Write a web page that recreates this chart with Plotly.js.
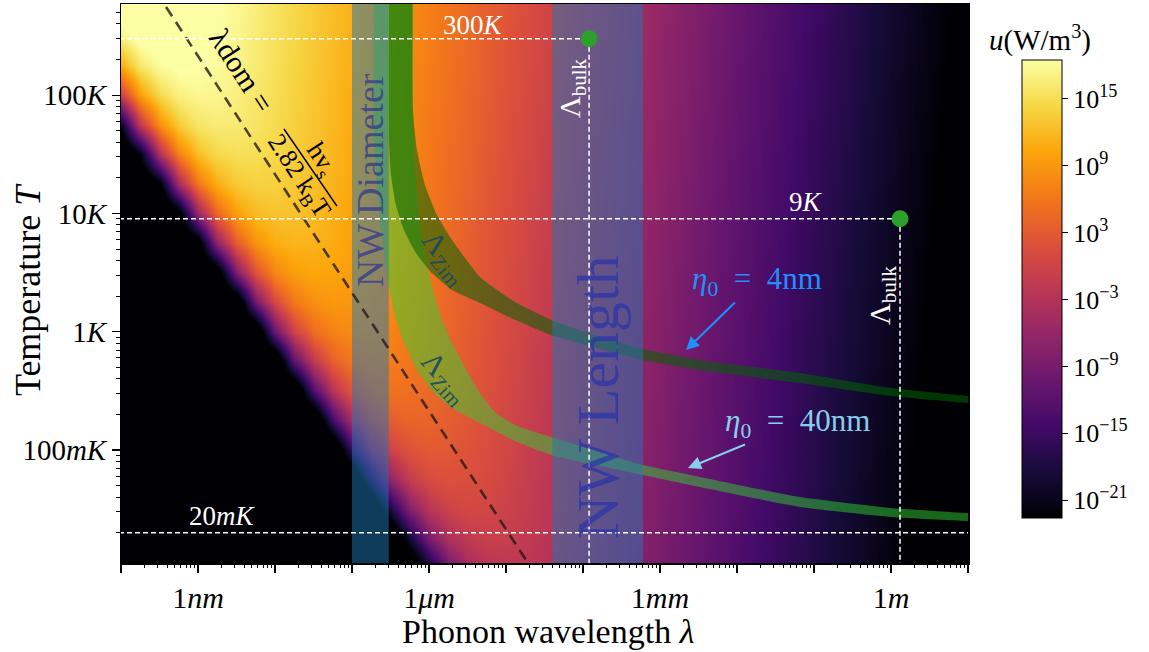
<!DOCTYPE html>
<html><head><meta charset="utf-8">
<script src="https://cdn.plot.ly/plotly-3.0.1.min.js"></script>
<style>html,body{margin:0;padding:0;background:#fff;}#chart{width:1149px;height:652px;}</style>
</head><body><div id="chart"></div>
<script>
// ---- heatmap grid: log10 wavelength (m) and log10 temperature (K) ----
const logLambdaGrid = [-10,-9.75,-9.5,-9.25,-9,-8.75,-8.5,-8.25,-8,-7.75,-7.5,-7.25,-7,-6.75,-6.5,-6.25,-6,-5.75,-5.5,-5.25,-5,-4.75,-4.5,-4.25,-4,-3.75,-3.5,-3.25,-3,-2.75,-2.5,-2.25,-2,-1.75,-1.5,-1.25,-1,-0.75,-0.5,-0.25,0,0.25,0.5,0.75,1];
const logTGrid = [-2,-1.75,-1.5,-1.25,-1,-0.75,-0.5,-0.25,0,0.25,0.5,0.75,1,1.25,1.5,1.75,2,2.25,2.5,2.75];
// log10 u (W/m^3), one row per temperature; -30 = below the colour scale (black)
const uRow00 = [-30,-30,-30,-30,-30,-30,-30,-30,-30,-30,-30,-30,-30,-30,-30,-30,-20.1,-10.0,-4.9,-2.6,-1.9,-2.1,-2.7,-3.6,-4.5,-5.6,-6.6,-7.7,-8.8,-9.8,-10.9,-12.0,-13.1,-14.2,-15.3,-16.4,-17.4,-18.5,-19.6,-20.7,-21.8,-22.9,-24.0,-25.1,-26.1];
const uRow01 = [-30,-30,-30,-30,-30,-30,-30,-30,-30,-30,-30,-30,-30,-30,-30,-18.9,-8.8,-3.7,-1.4,-0.7,-0.8,-1.5,-2.3,-3.3,-4.3,-5.4,-6.5,-7.5,-8.6,-9.7,-10.8,-11.9,-13.0,-14.1,-15.1,-16.2,-17.3,-18.4,-19.5,-20.6,-21.7,-22.8,-23.8,-24.9,-26.0];
const uRow02 = [-30,-30,-30,-30,-30,-30,-30,-30,-30,-30,-30,-30,-30,-30,-17.7,-7.5,-2.4,-0.1,0.6,0.4,-0.3,-1.1,-2.1,-3.1,-4.2,-5.2,-6.3,-7.4,-8.5,-9.6,-10.7,-11.7,-12.8,-13.9,-15.0,-16.1,-17.2,-18.3,-19.4,-20.4,-21.5,-22.6,-23.7,-24.8,-25.9];
const uRow03 = [-30,-30,-30,-30,-30,-30,-30,-30,-30,-30,-30,-30,-30,-16.4,-6.3,-1.2,1.1,1.8,1.6,1.0,0.1,-0.9,-1.9,-2.9,-4.0,-5.1,-6.2,-7.3,-8.3,-9.4,-10.5,-11.6,-12.7,-13.8,-14.9,-16.0,-17.0,-18.1,-19.2,-20.3,-21.4,-22.5,-23.6,-24.7,-25.7];
const uRow04 = [-30,-30,-30,-30,-30,-30,-30,-30,-30,-30,-30,-30,-15.2,-5.1,0.0,2.3,3.0,2.8,2.2,1.3,0.4,-0.7,-1.7,-2.8,-3.9,-4.9,-6.0,-7.1,-8.2,-9.3,-10.4,-11.5,-12.6,-13.6,-14.7,-15.8,-16.9,-18.0,-19.1,-20.2,-21.3,-22.3,-23.4,-24.5,-25.6];
const uRow05 = [-30,-30,-30,-30,-30,-30,-30,-30,-30,-30,-30,-14.0,-3.9,1.2,3.5,4.2,4.1,3.4,2.6,1.6,0.6,-0.5,-1.6,-2.6,-3.7,-4.8,-5.9,-7.0,-8.1,-9.2,-10.2,-11.3,-12.4,-13.5,-14.6,-15.7,-16.8,-17.9,-18.9,-20.0,-21.1,-22.2,-23.3,-24.4,-25.5];
const uRow06 = [-30,-30,-30,-30,-30,-30,-30,-30,-30,-30,-12.8,-2.6,2.5,4.8,5.5,5.3,4.6,3.8,2.8,1.8,0.7,-0.3,-1.4,-2.5,-3.6,-4.7,-5.8,-6.8,-7.9,-9.0,-10.1,-11.2,-12.3,-13.4,-14.5,-15.5,-16.6,-17.7,-18.8,-19.9,-21.0,-22.1,-23.2,-24.2,-25.3];
const uRow07 = [-30,-30,-30,-30,-30,-30,-30,-30,-30,-11.5,-1.4,3.7,6.0,6.7,6.5,5.9,5.0,4.0,3.0,2.0,0.9,-0.2,-1.3,-2.4,-3.4,-4.5,-5.6,-6.7,-7.8,-8.9,-10.0,-11.1,-12.1,-13.2,-14.3,-15.4,-16.5,-17.6,-18.7,-19.8,-20.8,-21.9,-23.0,-24.1,-25.2];
const uRow08 = [-30,-30,-30,-30,-30,-30,-30,-29.3,-10.3,-0.2,4.9,7.2,7.9,7.7,7.1,6.2,5.3,4.2,3.2,2.1,1.0,0.0,-1.1,-2.2,-3.3,-4.4,-5.5,-6.6,-7.7,-8.7,-9.8,-10.9,-12.0,-13.1,-14.2,-15.3,-16.4,-17.4,-18.5,-19.6,-20.7,-21.8,-22.9,-24.0,-25.1];
const uRow09 = [-30,-30,-30,-30,-30,-30,-28.1,-9.1,1.0,6.1,8.4,9.1,9.0,8.3,7.5,6.5,5.5,4.4,3.3,2.3,1.2,0.1,-1.0,-2.1,-3.2,-4.3,-5.3,-6.4,-7.5,-8.6,-9.7,-10.8,-11.9,-13.0,-14.0,-15.1,-16.2,-17.3,-18.4,-19.5,-20.6,-21.7,-22.7,-23.8,-24.9];
const uRow10 = [-30,-30,-30,-30,-30,-26.9,-7.9,2.3,7.4,9.7,10.4,10.2,9.5,8.7,7.7,6.7,5.6,4.6,3.5,2.4,1.3,0.2,-0.8,-1.9,-3.0,-4.1,-5.2,-6.3,-7.4,-8.5,-9.6,-10.6,-11.7,-12.8,-13.9,-15.0,-16.1,-17.2,-18.3,-19.3,-20.4,-21.5,-22.6,-23.7,-24.8];
const uRow11 = [-30,-30,-30,-30,-25.6,-6.6,3.5,8.6,10.9,11.6,11.4,10.8,9.9,8.9,7.9,6.9,5.8,4.7,3.6,2.5,1.5,0.4,-0.7,-1.8,-2.9,-4.0,-5.1,-6.2,-7.2,-8.3,-9.4,-10.5,-11.6,-12.7,-13.8,-14.9,-15.9,-17.0,-18.1,-19.2,-20.3,-21.4,-22.5,-23.6,-24.6];
const uRow12 = [-30,-30,-30,-24.4,-5.4,4.7,9.8,12.1,12.8,12.6,12.0,11.1,10.2,9.1,8.1,7.0,5.9,4.9,3.8,2.7,1.6,0.5,-0.6,-1.7,-2.8,-3.8,-4.9,-6.0,-7.1,-8.2,-9.3,-10.4,-11.5,-12.5,-13.6,-14.7,-15.8,-16.9,-18.0,-19.1,-20.2,-21.2,-22.3,-23.4,-24.5];
const uRow13 = [-30,-30,-23.2,-4.2,5.9,11.0,13.3,14.0,13.9,13.2,12.4,11.4,10.4,9.3,8.2,7.2,6.1,5.0,3.9,2.8,1.7,0.6,-0.4,-1.5,-2.6,-3.7,-4.8,-5.9,-7.0,-8.1,-9.1,-10.2,-11.3,-12.4,-13.5,-14.6,-15.7,-16.8,-17.8,-18.9,-20.0,-21.1,-22.2,-23.3,-24.4];
const uRow14 = [-30,-22.0,-3.0,7.2,12.3,14.6,15.3,15.1,14.4,13.6,12.6,11.6,10.5,9.5,8.4,7.3,6.2,5.1,4.1,3.0,1.9,0.8,-0.3,-1.4,-2.5,-3.6,-4.7,-5.7,-6.8,-7.9,-9.0,-10.1,-11.2,-12.3,-13.4,-14.4,-15.5,-16.6,-17.7,-18.8,-19.9,-21.0,-22.1,-23.1,-24.2];
const uRow15 = [-20.7,-1.7,8.4,13.5,15.8,16.5,16.3,15.7,14.8,13.8,12.8,11.8,10.7,9.6,8.5,7.4,6.4,5.3,4.2,3.1,2.0,0.9,-0.2,-1.3,-2.3,-3.4,-4.5,-5.6,-6.7,-7.8,-8.9,-10.0,-11.0,-12.1,-13.2,-14.3,-15.4,-16.5,-17.6,-18.7,-19.7,-20.8,-21.9,-23.0,-24.1];
const uRow16 = [-0.5,9.6,14.7,17.0,17.7,17.5,16.9,16.0,15.1,14.0,13.0,11.9,10.8,9.8,8.7,7.6,6.5,5.4,4.3,3.2,2.2,1.1,0.0,-1.1,-2.2,-3.3,-4.4,-5.5,-6.6,-7.6,-8.7,-9.8,-10.9,-12.0,-13.1,-14.2,-15.3,-16.3,-17.4,-18.5,-19.6,-20.7,-21.8,-22.9,-24.0];
const uRow17 = [10.8,15.9,18.2,18.9,18.8,18.1,17.3,16.3,15.3,14.2,13.1,12.1,11.0,9.9,8.8,7.7,6.6,5.5,4.5,3.4,2.3,1.2,0.1,-1.0,-2.1,-3.2,-4.2,-5.3,-6.4,-7.5,-8.6,-9.7,-10.8,-11.9,-12.9,-14.0,-15.1,-16.2,-17.3,-18.4,-19.5,-20.6,-21.6,-22.7,-23.8];
const uRow18 = [17.2,19.5,20.2,20.0,19.3,18.5,17.5,16.5,15.4,14.4,13.3,12.2,11.1,10.0,9.0,7.9,6.8,5.7,4.6,3.5,2.4,1.3,0.3,-0.8,-1.9,-3.0,-4.1,-5.2,-6.3,-7.4,-8.5,-9.5,-10.6,-11.7,-12.8,-13.9,-15.0,-16.1,-17.2,-18.2,-19.3,-20.4,-21.5,-22.6,-23.7];
const uRow19 = [20.7,21.4,21.2,20.6,19.7,18.7,17.7,16.7,15.6,14.5,13.4,12.3,11.3,10.2,9.1,8.0,6.9,5.8,4.7,3.6,2.6,1.5,0.4,-0.7,-1.8,-2.9,-4.0,-5.1,-6.1,-7.2,-8.3,-9.4,-10.5,-11.6,-12.7,-13.8,-14.8,-15.9,-17.0,-18.1,-19.2,-20.3,-21.4,-22.5,-23.5];
const logU = [uRow00,uRow01,uRow02,uRow03,uRow04,uRow05,uRow06,uRow07,uRow08,uRow09,uRow10,uRow11,uRow12,uRow13,uRow14,uRow15,uRow16,uRow17,uRow18,uRow19];

// colour scale limits and ticks (log10 u)
const uMin = -22.6, uMax = 18.5;
const cbTickVals = [-21,-15,-9,-3,3,9,15];
const cbTickText = ['10<sup>−21</sup>','10<sup>−15</sup>','10<sup>−9</sup>','10<sup>−3</sup>','10<sup>3</sup>','10<sup>9</sup>','10<sup>15</sup>'];

// nanowire size ranges (m)
const nwDiameter = [1e-7, 3e-7];
const nwLength = [4e-5, 6e-4];

// Ziman mean-free-path bands: boundary curves (wavelength m, temperature K)
const zim4InnerLambda = [6.19e-7,6.19e-7,6.98e-7,8.87e-7,1.27e-6,1.99e-6,3.21e-6,4.59e-6,1.31e-5,3.84e-5,1.66e-4,6.01e-4,3.30e-3,6.58e-2,1.0,10,100];
const zim4InnerT      = [1700,74.8,34.3,17.4,9.68,5.96,3.88,2.90,1.78,1.26,0.902,0.714,0.577,0.448,0.334,0.286,0.249];
const zim4OuterLambda = [3.03e-7,3.03e-7,3.21e-7,3.72e-7,4.73e-7,6.78e-7,1.09e-6,1.99e-6,4.59e-6,1.31e-5,3.84e-5,1.66e-4,6.01e-4,3.30e-3,6.58e-2,1.0,10,100];
const zim4OuterT      = [1700,41.7,21.1,11.8,7.24,4.62,3.13,2.25,1.75,1.26,0.938,0.714,0.577,0.474,0.368,0.286,0.249,0.218];
const zim40InnerLambda = [6.19e-7,6.19e-7,6.58e-7,7.41e-7,8.87e-7,1.13e-6,1.48e-6,1.99e-6,2.69e-6,3.61e-6,4.59e-6,7.19e-6,1.31e-5,3.84e-5,1.66e-4,6.01e-4,3.30e-3,6.58e-2,1.0,10,100];
const zim40InnerT      = [1700,61.5,23.3,9.68,4.45,2.25,1.26,0.802,0.555,0.391,0.303,0.209,0.163,0.129,0.0962,0.0746,0.0592,0.0401,0.0324,0.0293,0.0272];
const zim40OuterLambda = [1.93e-7,1.93e-7,2.11e-7,2.38e-7,2.85e-7,3.61e-7,4.88e-7,7.19e-7,1.13e-6,1.88e-6,4.59e-6,1.31e-5,3.84e-5,1.66e-4,6.01e-4,3.30e-3,6.58e-2,1.0,10,100];
const zim40OuterT      = [1700,41.7,17.4,7.24,3.01,1.38,0.771,0.456,0.309,0.231,0.169,0.119,0.0908,0.0733,0.0615,0.0486,0.0330,0.0272,0.0251,0.0232];

// dominant wavelength line (two points on lambda*T = const)
const lambdaDom = [2.14e-10, 2.14e-4];
const TDom = [1000, 0.001];

// bulk mean free path markers
const lambdaBulk = [1.2e-4, 1.31];
const TBulk = [300, 9];
const TLabels = ['300<i>K</i>', '9<i>K</i>'];
const TBase = 0.02;

// axis ticks
const xLabelVals = [1e-9,1e-6,1e-3,1];
const xLabelText = ['1<i>nm</i>','1<i>μm</i>','1<i>mm</i>','1<i>m</i>'];
const yLabelVals = [0.1,1,10,100];
const yLabelText = ['100<i>mK</i>','1<i>K</i>','10<i>K</i>','100<i>K</i>'];

function minorTicks(lo, hi){ const out=[]; for(let n=lo;n<=hi;n++){ for(let m=2;m<=9;m++){ out.push(m*Math.pow(10,n)); } } return out; }

const inferno = [[0,'#000004'],[0.1,'#160b39'],[0.2,'#420a68'],[0.3,'#6a176e'],[0.4,'#932667'],[0.5,'#bc3754'],[0.6,'#dd513a'],[0.7,'#f37819'],[0.8,'#fca50a'],[0.9,'#f6d746'],[1,'#fcffa4']];

const FONT = 'Liberation Serif, serif';
const Tlo = 1e-4, Thi = 1e5, Llo = 1e-12, Lhi = 100;
const SP = '\u2002';

function band(oL, oT, iL, iT, color){
  return {type:'scatter', mode:'lines', xaxis:'x2', yaxis:'y2',
    x: oL.concat(iL.slice().reverse()), y: oT.concat(iT.slice().reverse()),
    fill:'toself', fillcolor:color, line:{width:0, shape:'spline', smoothing:0.5}, hoverinfo:'skip'};
}
function vspan(r, color){
  return {type:'scatter', mode:'lines', xaxis:'x2', yaxis:'y2',
    x:[r[0],r[1],r[1],r[0],r[0]], y:[Tlo,Tlo,Thi,Thi,Tlo], fill:'toself', fillcolor:color, line:{width:0}, hoverinfo:'skip'};
}
const whiteDash = {color:'white', width:1.5, dash:'5px,3px'};

const traces = [
  {type:'heatmap', x:logLambdaGrid, y:logTGrid, z:logU, zmin:uMin, zmax:uMax, zsmooth:'best',
   colorscale:inferno, hoverinfo:'skip',
   colorbar:{x:1.0638, xanchor:'left', y:0.4902, yanchor:'middle', len:458, lenmode:'pixels',
     thickness:40, thicknessmode:'pixels', xpad:0, ypad:0, outlinewidth:1, outlinecolor:'black',
     tickvals:cbTickVals, ticktext:cbTickText, ticks:'outside', ticklen:6, tickcolor:'black',
     tickfont:{family:FONT, size:26, color:'black'}}},
  band(zim40OuterLambda, zim40OuterT, zim40InnerLambda, zim40InnerT, 'rgba(50,205,50,0.5)'),
  band(zim4OuterLambda, zim4OuterT, zim4InnerLambda, zim4InnerT, 'rgba(0,100,0,0.55)'),
  vspan(nwDiameter, 'rgba(31,119,180,0.5)'),
  vspan(nwLength, 'rgba(31,119,180,0.5)'),
  {type:'scatter', mode:'lines', xaxis:'x2', yaxis:'y2', x:lambdaDom, y:TDom,
   line:{color:'rgba(35,25,25,0.8)', width:2.6, dash:'11px,7px'}, hoverinfo:'skip'},
  {type:'scatter', mode:'lines', xaxis:'x2', yaxis:'y2', x:[Llo, lambdaBulk[0]], y:[TBulk[0],TBulk[0]], line:whiteDash, hoverinfo:'skip'},
  {type:'scatter', mode:'lines', xaxis:'x2', yaxis:'y2', x:[lambdaBulk[0], lambdaBulk[0]], y:[TBulk[0],Tlo], line:whiteDash, hoverinfo:'skip'},
  {type:'scatter', mode:'lines', xaxis:'x2', yaxis:'y2', x:[Llo, lambdaBulk[1]], y:[TBulk[1],TBulk[1]], line:whiteDash, hoverinfo:'skip'},
  {type:'scatter', mode:'lines', xaxis:'x2', yaxis:'y2', x:[lambdaBulk[1], lambdaBulk[1]], y:[TBulk[1],Tlo], line:whiteDash, hoverinfo:'skip'},
  {type:'scatter', mode:'lines', xaxis:'x2', yaxis:'y2', x:[Llo, Lhi], y:[TBase,TBase], line:whiteDash, hoverinfo:'skip'},
  {type:'scatter', mode:'markers', xaxis:'x2', yaxis:'y2', x:lambdaBulk, y:TBulk,
   marker:{color:'#2ca02c', size:17, line:{width:0}}, hoverinfo:'skip', cliponaxis:false}
];

const ann = [];
function txt(x, y, text, size, color, angle, extra){
  ann.push(Object.assign({xref:'x', yref:'y', x:x, y:y, text:text, showarrow:false, textangle:angle||0,
    font:{family:FONT, size:size, color:color}, xanchor:'center', yanchor:'middle'}, extra||{}));
}
// positions in log10 units of the heatmap axes
txt(-5.416, 2.592, TLabels[0], 27, 'white');
txt(-1.104, 1.096, TLabels[1], 27, 'white');
txt(-8.688, -1.558, '20<i>mK</i>', 27, 'white');
txt(-4.143, 2.06, 'Λ<sub>bulk</sub>', 30, 'white', -90);
txt(-0.117, 0.31, 'Λ<sub>bulk</sub>', 30, 'white', -90);
txt(-6.766, 1.282, 'NW Diameter', 38, 'rgba(40,50,145,0.7)', -90);
txt(-3.805, -0.552, 'NW Length', 60, 'rgba(40,50,170,0.7)', -90);
txt(-5.805, 0.623, 'Λ<sub>Zim</sub>', 30, 'rgba(20,70,100,0.9)', 52);
txt(-5.805, -0.392, 'Λ<sub>Zim</sub>', 30, 'rgba(20,70,100,0.9)', 48);
txt(-8.429, 2.212, 'λdom =', 30, 'black', 57);
txt(-7.403, 1.451, 'hv<sub>s</sub>', 26, 'black', 57);
txt(-7.701, 1.316, '2.82 k<sub>B</sub>T', 26, 'black', 57);
ann.push({xref:'x', yref:'y', x:-2.662, y:-0.155, ax:71, ay:-69, text:'<i>η</i><sub>0</sub>'+SP+'='+SP+'4nm', showarrow:true,
  arrowcolor:'#1e90ff', arrowwidth:2, arrowhead:2, arrowsize:1.3, font:{family:FONT, size:31, color:'#1e90ff'}});
ann.push({xref:'x', yref:'y', x:-2.636, y:-1.152, ax:109, ay:-45, text:'<i>η</i><sub>0</sub>'+SP+'='+SP+'40nm', showarrow:true,
  arrowcolor:'#87ceeb', arrowwidth:2, arrowhead:2, arrowsize:1.3, font:{family:FONT, size:31, color:'#87ceeb'}});
// axis and colour-bar titles
ann.push({xref:'paper', yref:'paper', x:0.504, y:-0.1234, text:'Phonon wavelength <i>λ</i>', showarrow:false,
  xanchor:'center', yanchor:'middle', font:{family:FONT, size:34, color:'black'}});
ann.push({xref:'paper', yref:'paper', x:-0.1098, y:0.49, text:'Temperature <i>T</i>', showarrow:false, textangle:-90,
  xanchor:'center', yanchor:'middle', font:{family:FONT, size:36, color:'black'}});
ann.push({xref:'paper', yref:'paper', x:1.085, y:0.939, text:'<i>u</i>(W/m<sup>3</sup>)', showarrow:false,
  xanchor:'center', yanchor:'middle', font:{family:FONT, size:29, color:'black'}});

const layout = {
  width:1149, height:652, margin:{l:121, r:181, t:4, b:89, pad:0},
  paper_bgcolor:'white', plot_bgcolor:'black', showlegend:false,
  font:{family:FONT, size:24, color:'black'},
  xaxis:{range:[-10,1.0], showgrid:false, zeroline:false, showticklabels:false,
         tickmode:'linear', tick0:-10, dtick:1, ticks:'outside', ticklen:8, tickwidth:1.2, tickcolor:'black',
         showline:true, mirror:true, linecolor:'black', linewidth:1.5, fixedrange:true},
  yaxis:{range:[-1.955,2.77], showgrid:false, zeroline:false, showticklabels:false,
         tickmode:'linear', tick0:-2, dtick:1, ticks:'outside', ticklen:8, tickwidth:1.2, tickcolor:'black',
         showline:true, mirror:true, linecolor:'black', linewidth:1.5, fixedrange:true},
  xaxis2:{type:'log', overlaying:'x', side:'bottom', anchor:'y', range:[-10,1.0],
          tickmode:'array', tickvals:xLabelVals, ticktext:xLabelText, ticks:'outside', ticklen:8, tickwidth:1.2, tickcolor:'black',
          minor:{tickvals:minorTicks(-11,1), ticks:'outside', ticklen:4, tickwidth:1, tickcolor:'black'},
          showgrid:false, zeroline:false, showline:false, tickfont:{family:FONT, size:30}},
  yaxis2:{type:'log', overlaying:'y', side:'left', anchor:'x', range:[-1.955,2.77],
          tickmode:'array', tickvals:yLabelVals, ticktext:yLabelText, ticks:'outside', ticklen:8, tickwidth:1.2, tickcolor:'black',
          minor:{tickvals:minorTicks(-3,3), ticks:'outside', ticklen:4, tickwidth:1, tickcolor:'black'},
          showgrid:false, zeroline:false, showline:false, tickfont:{family:FONT, size:29}},
  shapes:[{type:'line', xref:'x', yref:'y', x0:-7.883, y0:1.713, x1:-7.195, y1:1.062, line:{color:'black', width:1.5}, layer:'above'}],
  annotations: ann
};

Plotly.newPlot('chart', traces, layout, {staticPlot:true, displayModeBar:false});
</script>
</body></html>
